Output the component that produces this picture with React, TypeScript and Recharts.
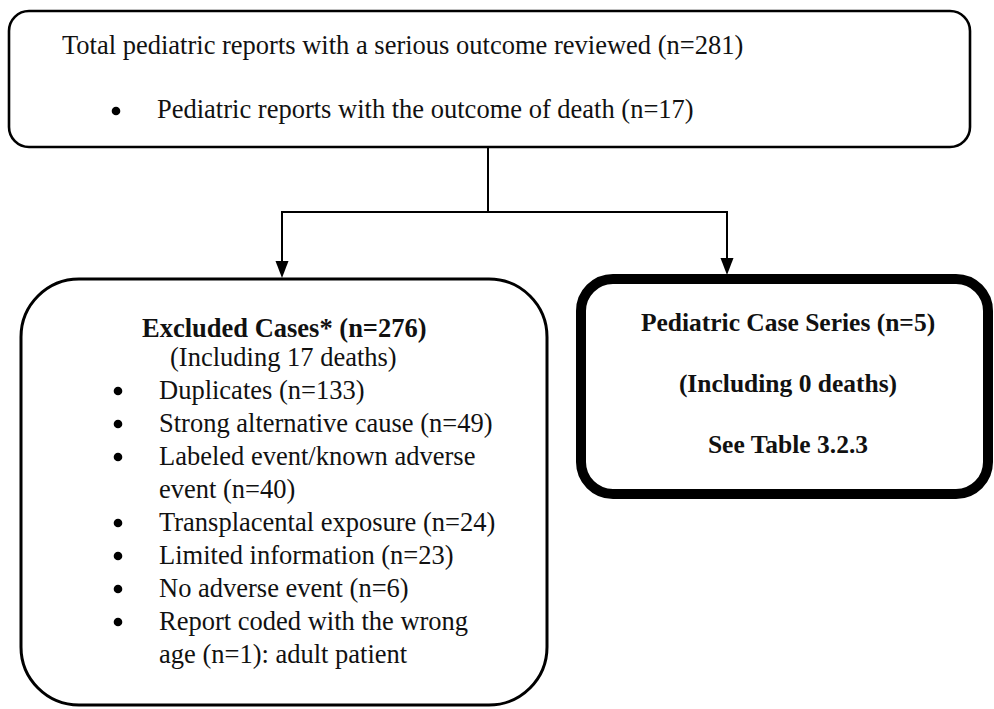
import React from 'react';
import { ComposedChart, XAxis, YAxis, Scatter, ReferenceArea, ReferenceLine } from 'recharts';

const W = 994;
const H = 709;

// counts shown in the flow chart
const totalReviewed = 281;
const totalDeaths = 17;
const excludedTotal = 276;
const excludedDeaths = 17;
const caseSeriesTotal = 5;
const caseSeriesDeaths = 0;
const caseSeriesTable = '3.2.3';

// exclusion reasons, already wrapped the way the box wraps them
const exclusionReasons = [
  ['Duplicates'],
  ['Strong alternative cause'],
  ['Labeled event/known adverse', 'event'],
  ['Transplacental exposure'],
  ['Limited information'],
  ['No adverse event'],
  ['Report coded with the wrong', 'age'],
];
const exclusionCounts = [133, 49, 40, 24, 23, 6, 1];
const exclusionNotes = ['', '', '', '', '', '', ': adult patient'];

const FONT = '"Liberation Serif", "Times New Roman", serif';

type TextRow = { x: number; y: number; text: string; bold?: boolean; size: number; anchor?: string };
type Dot = { x: number; y: number };

// top box
const topRows: TextRow[] = [
  { x: 62, y: 54, size: 26.5, text: `Total pediatric reports with a serious outcome reviewed (n=${totalReviewed})` },
  { x: 157, y: 118, size: 26.5, text: `Pediatric reports with the outcome of death (n=${totalDeaths})` },
];
const topBullets: Dot[] = [{ x: 116, y: 111 }];

// left box
const leftRows: TextRow[] = [
  { x: 142, y: 337, size: 26.5, bold: true, text: `Excluded Cases* (n=${excludedTotal})` },
  { x: 170, y: 366, size: 26.5, text: `(Including ${excludedDeaths} deaths)` },
];
const leftBullets: Dot[] = [];
let lineY = 399;
exclusionReasons.forEach((lines, i) => {
  leftBullets.push({ x: 118, y: lineY - 8 });
  lines.forEach((ln, j) => {
    const last = j === lines.length - 1;
    const text = last ? `${ln} (n=${exclusionCounts[i]})${exclusionNotes[i]}` : ln;
    leftRows.push({ x: 159, y: lineY, size: 26.5, text });
    lineY += 33;
  });
});

// right box
const rightRows: TextRow[] = [
  { x: 788, y: 331, size: 25.5, bold: true, anchor: 'middle', text: `Pediatric Case Series (n=${caseSeriesTotal})` },
  { x: 788, y: 392, size: 25.5, bold: true, anchor: 'middle', text: `(Including ${caseSeriesDeaths} deaths)` },
  { x: 788, y: 453, size: 25.5, bold: true, anchor: 'middle', text: `See Table ${caseSeriesTable}` },
];

const arrowTips: Dot[] = [
  { x: 282, y: 278 },
  { x: 727, y: 275 },
];

const roundBox = (rx: number, sw: number) => (p: any) => (
  <rect x={p.x} y={p.y} width={p.width} height={p.height} rx={rx} ry={rx} fill="#fff" stroke="#000" strokeWidth={sw} />
);

const TextShape = (p: any) => {
  const d = p.payload as TextRow;
  return (
    <text
      x={p.cx}
      y={p.cy}
      fontFamily={FONT}
      fontSize={d.size}
      fontWeight={d.bold ? 'bold' : 'normal'}
      textAnchor={d.anchor || 'start'}
      fill="#111"
    >
      {d.text}
    </text>
  );
};

const BulletShape = (p: any) => <circle cx={p.cx} cy={p.cy} r={4.3} fill="#000" />;

const ArrowShape = (p: any) => (
  <polygon points={`${p.cx},${p.cy} ${p.cx - 6.5},${p.cy - 17} ${p.cx + 6.5},${p.cy - 17}`} fill="#000" />
);

export default function App() {
  return (
    <div style={{ position: 'absolute', left: 0, top: 0, width: W, height: H, background: '#fff' }}>
      <ComposedChart width={W} height={H} margin={{ top: 0, right: 0, bottom: 0, left: 0 }}>
        <XAxis dataKey="x" type="number" domain={[0, W]} hide />
        <YAxis dataKey="y" type="number" domain={[0, H]} reversed hide />

        <ReferenceArea x1={9} x2={970} y1={11} y2={147} shape={roundBox(20, 2.6)} />
        <ReferenceArea x1={21} x2={547} y1={279} y2={705} shape={roundBox(58, 3)} />
        <ReferenceArea x1={581} x2={988} y1={279} y2={494} shape={roundBox(32, 10)} />

        <ReferenceLine segment={[{ x: 488, y: 147 }, { x: 488, y: 212 }]} stroke="#000" strokeWidth={2} />
        <ReferenceLine segment={[{ x: 281, y: 212 }, { x: 728, y: 212 }]} stroke="#000" strokeWidth={2} />
        <ReferenceLine segment={[{ x: 282, y: 212 }, { x: 282, y: 264 }]} stroke="#000" strokeWidth={2} />
        <ReferenceLine segment={[{ x: 727, y: 212 }, { x: 727, y: 261 }]} stroke="#000" strokeWidth={2} />

        <Scatter data={arrowTips} shape={ArrowShape} isAnimationActive={false} />
        <Scatter data={[...topBullets, ...leftBullets]} shape={BulletShape} isAnimationActive={false} />
        <Scatter data={topRows} shape={TextShape} isAnimationActive={false} />
        <Scatter data={leftRows} shape={TextShape} isAnimationActive={false} />
        <Scatter data={rightRows} shape={TextShape} isAnimationActive={false} />
      </ComposedChart>
    </div>
  );
}
